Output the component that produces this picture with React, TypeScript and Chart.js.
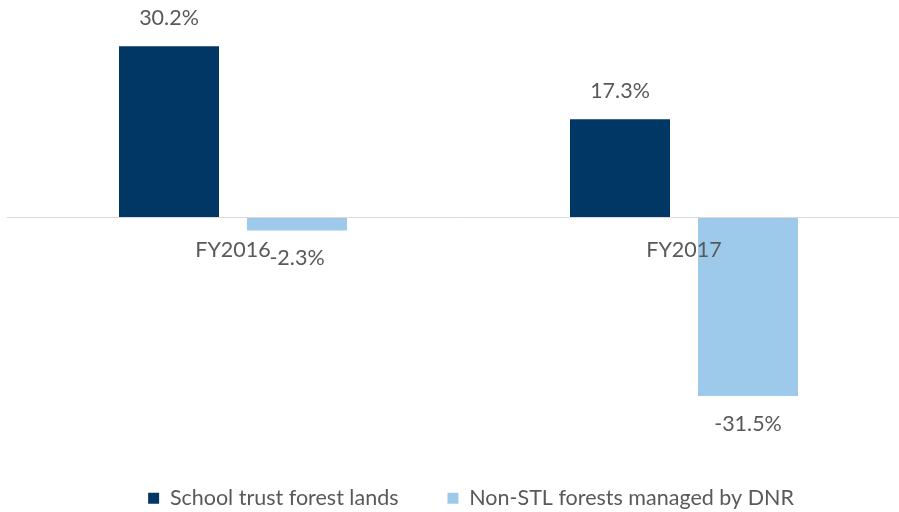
import React, { useEffect, useRef } from 'react';
import { Chart, registerables } from 'chart.js';

Chart.register(...registerables);

const categories = ['FY2016', 'FY2017'];
const seriesNames = ['School trust forest lands', 'Non-STL forests managed by DNR'];
const schoolTrust = [30.2, 17.3];
const nonStl = [-2.3, -31.5];

const FONT = 'Lato, "DejaVu Sans", sans-serif';
const FONT_SIZE = 21.5;
const TEXT = '#595959';
const DARK = '#003764';
const LIGHT = '#9DCAEB';

const valueLabels = {
  id: 'valueLabels',
  afterDatasetsDraw(chart: any) {
    const ctx = chart.ctx;
    ctx.save();
    ctx.font = `${FONT_SIZE}px ${FONT}`;
    ctx.fillStyle = TEXT;
    ctx.textAlign = 'center';
    ctx.textBaseline = 'middle';
    chart.data.datasets.forEach((ds: any, i: number) => {
      const meta = chart.getDatasetMeta(i);
      meta.data.forEach((bar: any, j: number) => {
        const v = ds.data[j] as number;
        const y = v >= 0 ? bar.y - 28 : bar.y + 28;
        ctx.fillText(v.toFixed(1) + '%', bar.x, y);
      });
    });
    ctx.restore();
  },
};

export default function App() {
  const ref = useRef<HTMLCanvasElement | null>(null);

  useEffect(() => {
    if (!ref.current) return;
    const chart = new Chart(ref.current, {
      type: 'bar',
      data: {
        labels: categories,
        datasets: [
          {
            label: seriesNames[0],
            data: schoolTrust,
            backgroundColor: DARK,
            borderWidth: 0,
            categoryPercentage: 0.5676,
            barPercentage: 0.78125,
          },
          {
            label: seriesNames[1],
            data: nonStl,
            backgroundColor: LIGHT,
            borderWidth: 0,
            categoryPercentage: 0.5676,
            barPercentage: 0.78125,
          },
        ],
      },
      options: {
        animation: false,
        responsive: false,
        layout: { padding: { top: 19, left: 7.5, right: 0.5, bottom: 0 } },
        plugins: {
          legend: {
            position: 'bottom',
            labels: {
              boxWidth: 11,
              boxHeight: 11,
              padding: 49,
              color: TEXT,
              font: { family: FONT, size: FONT_SIZE },
            },
          },
          tooltip: { enabled: false },
          title: { display: false },
        },
        scales: {
          x: {
            type: 'category',
            position: { y: 0 } as any,
            z: 1,
            grid: { display: false, drawTicks: false },
            border: { display: true, color: '#D9D9D9', width: 1, z: 1 } as any,
            ticks: {
              z: 1,
              color: TEXT,
              padding: 20,
              font: { family: FONT, size: FONT_SIZE },
            },
          },
          y: {
            type: 'linear',
            min: -39,
            max: 35,
            display: false,
          },
          y2: {
            type: 'linear',
            position: 'right',
            display: true,
            grid: { display: false },
            border: { display: false },
            ticks: { display: false },
            afterFit(scale: any) {
              scale.width = 25;
            },
          },
        },
      },
      plugins: [valueLabels],
    });
    return () => chart.destroy();
  }, []);

  return (
    <div style={{ position: 'fixed', left: 0, top: 0, width: 899, height: 512, overflow: 'hidden', background: '#fff' }}>
      <canvas ref={ref} width={935} height={519} style={{ width: 935, height: 519, display: 'block' }} />
    </div>
  );
}
